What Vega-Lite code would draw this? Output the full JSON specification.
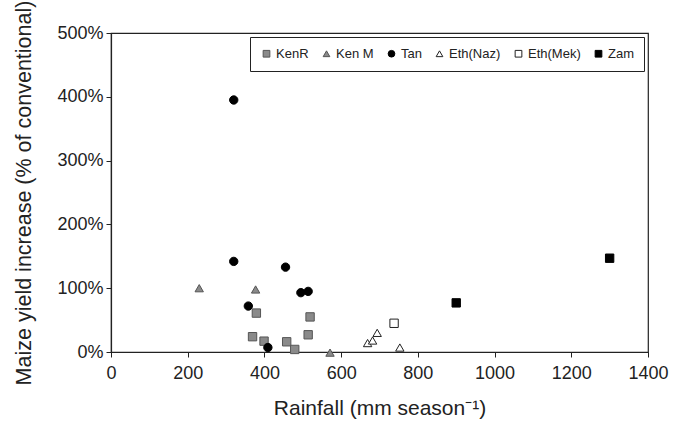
{
  "$schema": "https://vega.github.io/schema/vega-lite/v6.json",
  "width": 537,
  "height": 319,
  "autosize": {"type": "none"},
  "padding": {"left": 111, "top": 33, "right": 38, "bottom": 71},
  "background": "white",
  "config": {
    "font": "Liberation Sans",
    "view": {"stroke": "#222", "strokeWidth": 1.2},
    "axis": {"grid": false, "domainColor": "#222", "tickColor": "#222", "labelColor": "#222", "titleColor": "#222", "labelFontSize": 18, "titleFontWeight": "normal", "tickSize": 5, "domainWidth": 1.2}
  },
  "data": {
    "values": [
      {"site": "KenR", "rain": 379, "inc": 61},
      {"site": "KenR", "rain": 519, "inc": 55},
      {"site": "KenR", "rain": 369, "inc": 24},
      {"site": "KenR", "rain": 399, "inc": 17},
      {"site": "KenR", "rain": 458, "inc": 16},
      {"site": "KenR", "rain": 479, "inc": 4},
      {"site": "KenR", "rain": 514, "inc": 27},
      {"site": "Ken M", "rain": 230, "inc": 100},
      {"site": "Ken M", "rain": 377, "inc": 98},
      {"site": "Ken M", "rain": 571, "inc": -1},
      {"site": "Tan", "rain": 320, "inc": 395},
      {"site": "Tan", "rain": 320, "inc": 142},
      {"site": "Tan", "rain": 455, "inc": 133},
      {"site": "Tan", "rain": 358, "inc": 72},
      {"site": "Tan", "rain": 495, "inc": 93},
      {"site": "Tan", "rain": 514, "inc": 95},
      {"site": "Tan", "rain": 409, "inc": 7},
      {"site": "Eth(Naz)", "rain": 669, "inc": 14},
      {"site": "Eth(Naz)", "rain": 682, "inc": 18},
      {"site": "Eth(Naz)", "rain": 694, "inc": 30},
      {"site": "Eth(Naz)", "rain": 753, "inc": 7},
      {"site": "Eth(Mek)", "rain": 738, "inc": 45},
      {"site": "Zam", "rain": 900, "inc": 77},
      {"site": "Zam", "rain": 1300, "inc": 147}
    ]
  },
  "mark": {"type": "point", "filled": true, "size": 70, "strokeWidth": 1, "opacity": 1},
  "encoding": {
    "x": {
      "field": "rain", "type": "quantitative",
      "scale": {"domain": [0, 1400], "nice": false, "zero": false},
      "axis": {"values": [0, 200, 400, 600, 800, 1000, 1200, 1400], "format": "d", "title": "Rainfall (mm season⁻¹)", "titleFontSize": 21, "labelPadding": 7, "titlePadding": 15, "labelFlush": false}
    },
    "y": {
      "field": "inc", "type": "quantitative",
      "scale": {"domain": [0, 500], "nice": false, "zero": false},
      "axis": {"values": [0, 100, 200, 300, 400, 500], "labelExpr": "datum.value + '%'", "title": "Maize yield increase (% of conventional)", "titleFontSize": 21.5, "titlePadding": 21, "labelPadding": 3, "labelFlush": false}
    },
    "shape": {
      "field": "site", "type": "nominal",
      "scale": {"domain": ["KenR", "Ken M", "Tan", "Eth(Naz)", "Eth(Mek)", "Zam"], "range": ["square", "triangle-up", "circle", "triangle-up", "square", "square"]},
      "legend": {"title": null}
    },
    "fill": {
      "field": "site", "type": "nominal",
      "scale": {"domain": ["KenR", "Ken M", "Tan", "Eth(Naz)", "Eth(Mek)", "Zam"], "range": ["#8a8a8a", "#8a8a8a", "#000000", "#ffffff", "#ffffff", "#000000"]},
      "legend": {"title": null}
    },
    "stroke": {
      "field": "site", "type": "nominal",
      "scale": {"domain": ["KenR", "Ken M", "Tan", "Eth(Naz)", "Eth(Mek)", "Zam"], "range": ["#555555", "#555555", "#000000", "#222222", "#222222", "#000000"]},
      "legend": {
        "title": null, "orient": "top-right", "direction": "horizontal", "offset": 4,
        "strokeColor": "#222", "padding": 10, "labelFontSize": 13, "labelColor": "#222",
        "symbolSize": 45, "columnPadding": 11, "labelOffset": 3, "symbolStrokeWidth": 1
      }
    }
  }
}
